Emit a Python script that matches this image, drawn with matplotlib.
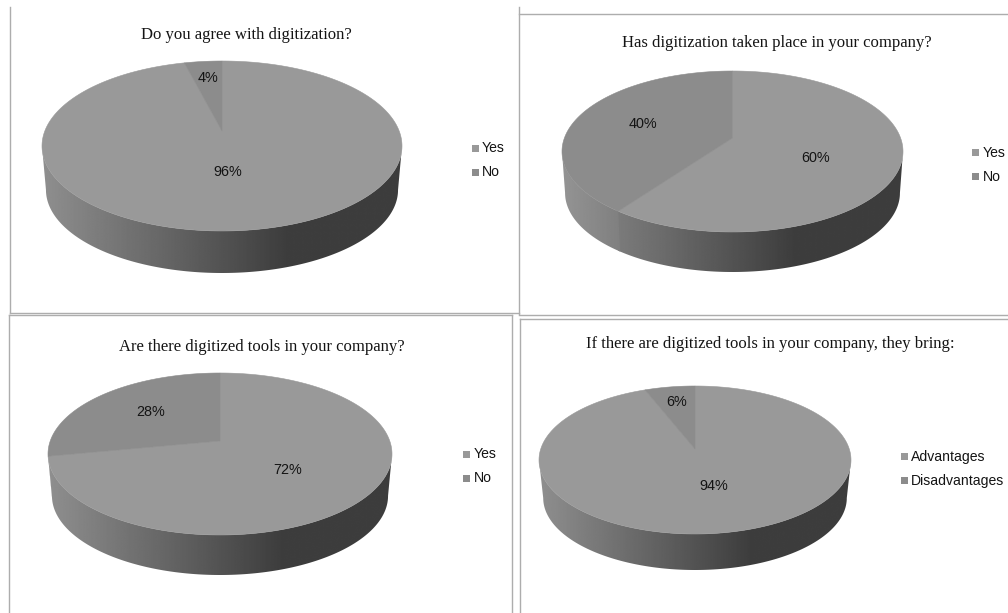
"""Four survey results on digitization, drawn as tilted 3D pies with a gradient wall."""

import matplotlib
matplotlib.use("Agg")
import matplotlib.pyplot as plt
import numpy as np
from matplotlib.patches import Polygon, Rectangle

TITLES = [
    "Do you agree with digitization?",
    "Has digitization taken place in your company?",
    "Are there digitized tools in your company?",
    "If there are digitized tools in your company, they bring:",
]
YES_NO = ["Yes", "No"]
ADV_DIS = ["Advantages", "Disadvantages"]

AGREE = [96, 4]
TAKEN_PLACE = [60, 40]
TOOLS = [72, 28]
BRING = [94, 6]

MAIN_GREY = "#999999"
OTHER_GREY = "#8c8c8c"

W, H = 1008, 613

# layout in pixels: top face extents, hub height, wall bottom, wall narrowing
PANELS = [
    dict(values=AGREE, labels=YES_NO, title=TITLES[0], title_xy=(246, 35),
         left=42, right=402, top=61, bottom=231, hub=131, wall_bottom=273, shrink=0.978,
         legend_xy=(472, 148), legend_text_x=482,
         pct_xy=[(228, 172), (208, 77)]),
    dict(values=TAKEN_PLACE, labels=YES_NO, title=TITLES[1], title_xy=(777, 43),
         left=562, right=903, top=71, bottom=232, hub=138, wall_bottom=272, shrink=0.982,
         legend_xy=(972, 152.5), legend_text_x=983,
         pct_xy=[(816, 157), (643, 124)]),
    dict(values=TOOLS, labels=YES_NO, title=TITLES[2], title_xy=(262, 347),
         left=48, right=392, top=373, bottom=535, hub=441, wall_bottom=575, shrink=0.977,
         legend_xy=(463, 454), legend_text_x=474,
         pct_xy=[(288, 469), (151, 412)]),
    dict(values=BRING, labels=ADV_DIS, title=TITLES[3], title_xy=(770, 344),
         left=539, right=851, top=386, bottom=534, hub=449, wall_bottom=570, shrink=0.973,
         legend_xy=(901, 456), legend_text_x=911,
         pct_xy=[(714, 486), (677, 401)]),
]

# frame segments left by the pasted panels: (x0, y0, x1, y1)
FRAMES = [
    (10, 7, 10, 313), (10, 313, 519, 313), (519, 7, 519, 314),
    (519, 14, 1008, 14), (519, 315, 1008, 315), (520, 319, 1008, 319),
    (8.5, 315, 511.5, 315), (8.5, 315, 8.5, 613), (511.5, 315, 511.5, 613),
    (520, 319, 520, 613),
]


def rim(angles, cx, hub_y, rx, ry, k):
    """Project points of a unit circle (angle clockwise from the far side)."""
    u, v = np.sin(angles), np.cos(angles)
    d = 1 + k * v
    return cx + rx * u / d, hub_y - ry * v / d


def wall_shade(x, x0, x1):
    # light on the left, flat dark over the right quarter
    t = np.clip((x - x0) / (0.68 * (x1 - x0)), 0, 1)
    return 0.56 + (0.24 - 0.56) * t


def draw_pie(ax, p):
    cx = (p["left"] + p["right"]) / 2
    up, down = p["hub"] - p["top"], p["bottom"] - p["hub"]
    k = (down - up) / (down + up)
    ry = 2 * up * down / (up + down)
    rx = (p["right"] - p["left"]) / 2 * np.sqrt(1 - k**2)
    s = p["shrink"]
    hub_b = p["wall_bottom"] - s * down

    shares = np.array(p["values"], dtype=float) / sum(p["values"])
    edges = np.concatenate([[0], np.cumsum(shares)]) * 2 * np.pi
    colors = [MAIN_GREY, OTHER_GREY]
    front_a, front_b = np.arccos(-k), 2 * np.pi - np.arccos(-k)

    # wall, one piece per slice so the slice boundary shows as a faint step;
    # the small overlap keeps the background from showing through at the seam
    xs = np.linspace(p["left"], p["right"], 400)
    for i in range(len(shares)):
        a0, a1 = max(edges[i], front_a), min(edges[i + 1] + 0.015, front_b)
        if a1 <= a0:
            continue
        t = np.linspace(a0, a1, 200)
        xt, yt = rim(t, cx, p["hub"], rx, ry, k)
        xb, yb = rim(t[::-1], cx, hub_b, rx * s, ry * s, k)
        clip = Polygon(np.c_[np.r_[xt, xb], np.r_[yt, yb]], closed=True,
                       transform=ax.transData, fc="none", ec="none")
        ax.add_patch(clip)
        shade = wall_shade(xs, p["left"], p["right"]) + (0.02 if i == 1 else 0)
        im = ax.imshow(shade[None, :], cmap="gray", vmin=0, vmax=1, aspect="auto",
                       extent=(p["left"], p["right"], p["wall_bottom"] + 2, p["top"]),
                       interpolation="bilinear", zorder=2)
        im.set_clip_path(clip)

    # top face
    for i in range(len(shares)):
        t = np.linspace(edges[i], edges[i + 1], 300)
        x, y = rim(t, cx, p["hub"], rx, ry, k)
        ax.add_patch(Polygon(np.c_[np.r_[cx, x], np.r_[p["hub"], y]], closed=True,
                             fc=colors[i], ec=colors[i], lw=0.4, zorder=3))

    for v, (px, py) in zip(p["values"], p["pct_xy"]):
        ax.text(px, py + 0.5, f"{v}%", ha="center", va="center", fontsize=10.4,
                family="Liberation Sans", color="#141414", zorder=5)

    ax.text(*p["title_xy"], p["title"], ha="center", va="center", fontsize=12.0,
            family="Liberation Serif", color="#141414", zorder=5)

    lx, ly = p["legend_xy"]
    for i, lab in enumerate(p["labels"]):
        y = ly + 24 * i
        ax.add_patch(Rectangle((lx, y - 3.5), 7, 7, fc=colors[i], ec="none", zorder=5))
        ax.text(p["legend_text_x"], y + 0.5, lab, ha="left", va="center", fontsize=10.1,
                family="Liberation Sans", color="#141414", zorder=5)


def main():
    fig = plt.figure(figsize=(W / 100, H / 100), dpi=100)
    ax = fig.add_axes([0, 0, 1, 1])
    for x0, y0, x1, y1 in FRAMES:
        ax.plot([x0, x1], [y0, y1], color="#adadad", lw=1, zorder=1)
    for p in PANELS:
        draw_pie(ax, p)
    ax.set_xlim(0, W)
    ax.set_ylim(H, 0)
    ax.axis("off")
    fig.savefig("out.png", dpi=100)


if __name__ == "__main__":
    main()
